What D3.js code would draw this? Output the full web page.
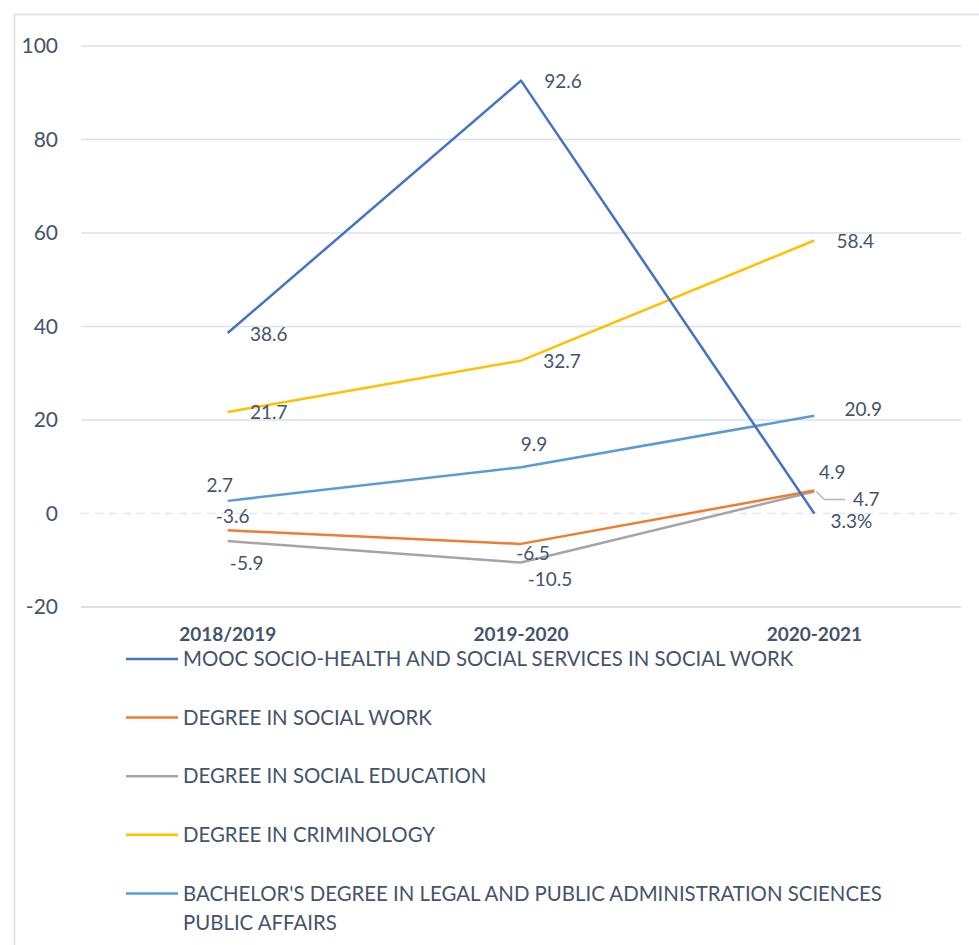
<!DOCTYPE html>
<html>
<head>
<meta charset="utf-8">
<script src="https://cdn.jsdelivr.net/npm/d3@7"></script>
<style>
  body { margin: 0; background: #fff; }
  text { font-family: Lato, "Open Sans", sans-serif; fill: #44546A; }
</style>
</head>
<body>
<div id="mount"></div>
<script>
var years = ['2018/2019', '2019-2020', '2020-2021'];
var seriesNames = [
  'MOOC SOCIO-HEALTH AND SOCIAL SERVICES IN SOCIAL WORK',
  'DEGREE IN SOCIAL WORK',
  'DEGREE IN SOCIAL EDUCATION',
  'DEGREE IN CRIMINOLOGY',
  "BACHELOR'S DEGREE IN LEGAL AND PUBLIC ADMINISTRATION SCIENCES|PUBLIC AFFAIRS"
];
var mooc = [38.6, 92.6, 0];
var socialWork = [-3.6, -6.5, 4.9];
var socialEducation = [-5.9, -10.5, 4.7];
var criminology = [21.7, 32.7, 58.4];
var legalPublic = [2.7, 9.9, 20.9];
var moocLabels = ['38.6', '92.6', '3.3%'];
var yTicks = [-20, 0, 20, 40, 60, 80, 100];
var colors = ['#4472C4', '#ED7D31', '#A5A5A5', '#FFC000', '#5B9BD5'];

// label offsets [dx, dy] relative to each point
var labelOffsets = [
  [[41, 1], [42, 1], [37, 8]],
  [[5, -14], [12, 9], [18, -18]],
  [[19, 22], [29, 17], [52, 8]],
  [[41, 0], [41, 1], [41, 1]],
  [[-8, -16], [13, -23], [49, -6]]
];

var width = 979, height = 945;
var svg = d3.select('#mount').append('svg')
  .attr('width', width).attr('height', height);

// outer border
svg.append('path')
  .attr('d', 'M14.5,945 V14.5 H979')
  .attr('fill', 'none').attr('stroke', '#D9DEE4').attr('stroke-width', 1.5);

var x = d3.scalePoint().domain(years).range([81, 961]).padding(0.5);
var y = d3.scaleLinear().domain([-20, 100]).range([607, 46]);

// gridlines
svg.append('g').selectAll('line')
  .data(yTicks)
  .enter().append('line')
  .attr('x1', 81).attr('x2', 961)
  .attr('y1', function (d) { return y(d); })
  .attr('y2', function (d) { return y(d); })
  .attr('stroke', function (d) { return d === 0 ? '#E3E7EC' : '#DCE1E7'; })
  .attr('stroke-width', function (d) { return d === -20 ? 2 : 1.5; })
  .attr('stroke-dasharray', function (d) { return d === 0 ? '8,6' : null; });

// y tick labels
svg.append('g').selectAll('text')
  .data(yTicks)
  .enter().append('text')
  .attr('x', 58)
  .attr('y', function (d) { return y(d); })
  .attr('dy', '0.35em')
  .attr('text-anchor', 'end')
  .style('font-size', '21px')
  .text(function (d) { return d; });

// x labels
svg.append('g').selectAll('text')
  .data(years)
  .enter().append('text')
  .attr('x', function (d) { return x(d); })
  .attr('y', 641)
  .attr('text-anchor', 'middle')
  .style('font-size', '19px')
  .style('font-weight', 'bold')
  .text(function (d) { return d; });

var allSeries = [mooc, socialWork, socialEducation, criminology, legalPublic];
var line = d3.line()
  .x(function (d, i) { return x(years[i]); })
  .y(function (d) { return y(d); });

// draw gray first so orange overlays the way it does in the reference
var drawOrder = [2, 1, 3, 4, 0];
drawOrder.forEach(function (k) {
  svg.append('path')
    .datum(allSeries[k])
    .attr('d', line)
    .attr('fill', 'none')
    .attr('stroke', colors[k])
    .attr('stroke-width', 2.5)
    .attr('stroke-linejoin', 'round');
});

// leader line for gray 2020-2021 label
svg.append('polyline')
  .attr('points', [
    [x(years[2]) + 2, y(socialEducation[2])],
    [x(years[2]) + 10, y(socialEducation[2]) + 8],
    [x(years[2]) + 31, y(socialEducation[2]) + 8]
  ].join(' '))
  .attr('fill', 'none').attr('stroke', '#ADB9CA').attr('stroke-width', 1.5);

// data labels
allSeries.forEach(function (s, k) {
  svg.append('g').selectAll('text')
    .data(s)
    .enter().append('text')
    .attr('x', function (d, i) { return x(years[i]) + labelOffsets[k][i][0]; })
    .attr('y', function (d, i) { return y(d) + labelOffsets[k][i][1]; })
    .attr('dy', '0.35em')
    .attr('text-anchor', 'middle')
    .style('font-size', '19px')
    .text(function (d, i) { return k === 0 ? moocLabels[i] : d; });
});

// legend
var legend = svg.append('g');
seriesNames.forEach(function (name, k) {
  var ly = 659 + k * 58.6;
  legend.append('line')
    .attr('x1', 126).attr('x2', 178)
    .attr('y1', ly).attr('y2', ly)
    .attr('stroke', colors[k]).attr('stroke-width', 2.5);
  var parts = name.split('|');
  parts.forEach(function (p, j) {
    legend.append('text')
      .attr('x', 183)
      .attr('y', ly + j * 29)
      .attr('dy', '0.35em')
      .style('font-size', '20.4px')
      .text(p);
  });
});
</script>
</body>
</html>
